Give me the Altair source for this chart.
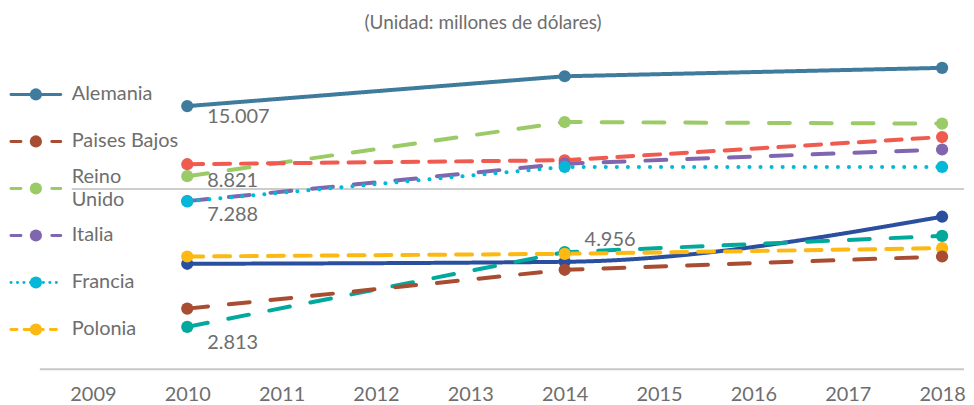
import altair as alt
import pandas as pd

# ---------------- data ----------------
years = [2010, 2014, 2018]
axis_years = [2009, 2010, 2011, 2012, 2013, 2014, 2015, 2016, 2017, 2018]

series_names = ["Alemania", "Reino Unido", "Serie 7", "Italia", "Francia",
                "Serie 8", "Serie 9", "Polonia", "Paises Bajos"]

alemania = [15007, 18820, 20060]
reino_unido = [8821, 13300, 13140]
serie_7 = [9660, 9955, 11870]
italia = [7300, 9700, 10800]
francia = [7288, 9460, 9460]
serie_8 = [4538, 4607, 6486]
serie_9 = [2813, 4956, 5607]
polonia = [4796, 4894, 5109]
paises_bajos = [3230, 4336, 4796]

series_values = [alemania, reino_unido, serie_7, italia, francia,
                 serie_8, serie_9, polonia, paises_bajos]

legend_names = ["Alemania", "Paises Bajos", "Reino Unido", "Italia", "Francia", "Polonia"]
legend_labels = ["Alemania", "Paises Bajos", "Reino\nUnido", "Italia", "Francia", "Polonia"]

labeled_points = [("Alemania", 2010), ("Reino Unido", 2010), ("Francia", 2010),
                  ("Serie 9", 2010), ("Serie 9", 2014)]

title_text = "(Unidad: millones de dólares)"

# ---------------- styles ----------------
colors = ["#3F7B9D", "#9BCB66", "#F05B4F", "#8066AF", "#04B8D6",
          "#2A4F9F", "#00A99B", "#FCB813", "#A84D32"]
dashes = [[1, 0], [21, 21], [16, 11], [21, 21], [0.1, 11],
          [1, 0], [21, 21], [16, 11], [21, 21]]
legend_dashes = [[1, 0], [10, 31], [10, 31], [10, 31], [0.1, 6.4], [6, 7.2]]
label_dy = {("Alemania", 2010): 11, ("Reino Unido", 2010): 5, ("Francia", 2010): 14,
            ("Serie 9", 2010): 16, ("Serie 9", 2014): -12}

FONT = "Lato"
GRAY = "#6E6E6E"
W, H = 962, 322
TOP, BOTTOM = 40, 35
LINE_H = 23

# ---------------- tables ----------------
rows = []
for name, vals in zip(series_names, series_values):
    for yr, v in zip(years, vals):
        lab = f"{v:,}".replace(",", ".") if (name, yr) in labeled_points else ""
        rows.append({"series": name, "year": yr, "value": v, "label": lab})
df = pd.DataFrame(rows)

leg_df = pd.DataFrame({"name": legend_names, "text": legend_labels})
leg_df["lines"] = leg_df["text"].str.count("\n") + 1

# ---------------- scales ----------------
xscale = alt.Scale(domain=[2008.1003, 2018.2533], nice=False, zero=False)
yscale = alt.Scale(type="log", domain=[2038, 23206], nice=False)
xaxis = alt.Axis(values=axis_years, format="d", domain=False, ticks=False, tickSize=0,
                 grid=False, labelFontSize=20, labelFont=FONT, labelColor=GRAY,
                 labelPadding=15, labelFlush=False, labelOverlap=False, title=None)
cscale = alt.Scale(domain=series_names, range=colors)

base = alt.Chart(df)
X = alt.X("year:Q", scale=xscale, axis=xaxis)
Y = alt.Y("value:Q", scale=yscale, axis=None)
C = alt.Color("series:N", scale=cscale, legend=None)
D = alt.StrokeDash("series:N", scale=alt.Scale(domain=series_names, range=dashes), legend=None)

lines = base.mark_line(strokeWidth=4, strokeCap="round", strokeJoin="round").encode(
    x=X, y=Y, color=C, strokeDash=D
).transform_filter(alt.datum.series != "Serie 8")

smooth = base.mark_line(strokeWidth=4, strokeCap="round", interpolate="monotone").encode(
    x=X, y=Y, color=C, strokeDash=D
).transform_filter(alt.datum.series == "Serie 8")

points = base.mark_point(filled=True, size=150, opacity=1).encode(x=X, y=Y, color=C)

label_layers = []
for (name, yr), dy in label_dy.items():
    label_layers.append(
        base.mark_text(align="left", baseline="middle", dx=20, dy=dy, fontSize=20,
                       font=FONT, color=GRAY).encode(x=X, y=Y, text="label:N")
        .transform_filter((alt.datum.series == name) & (alt.datum.year == yr))
    )

main = alt.layer(smooth, lines, points, *label_layers)

# ---------------- legend ----------------
lbase = alt.Chart(leg_df)
LY = alt.Y("name:N", scale=alt.Scale(type="point", domain=legend_names, range=[46, 282], padding=0), axis=None)
LC = alt.Color("name:N", scale=cscale, legend=None)
leg_rule = lbase.mark_rule(strokeWidth=3, strokeCap="round").encode(
    x=alt.value(3), x2=alt.value(53), y=LY, color=LC,
    strokeDash=alt.StrokeDash("name:N", scale=alt.Scale(domain=legend_names, range=legend_dashes), legend=None),
)
leg_pt = lbase.mark_point(filled=True, size=150, opacity=1).encode(x=alt.value(28), y=LY, color=LC)
leg_txt1 = lbase.mark_text(align="left", baseline="middle", fontSize=20, font=FONT, color=GRAY).encode(
    x=alt.value(64), y=LY, text="text:N").transform_filter(alt.datum.lines == 1)
leg_txt2 = lbase.mark_text(align="left", baseline="middle", fontSize=20, font=FONT, color=GRAY,
                           lineBreak="\n", lineHeight=LINE_H, dy=-LINE_H / 2).encode(
    x=alt.value(64), y=LY, text="text:N").transform_filter(alt.datum.lines == 2)
legend = alt.layer(leg_rule, leg_pt, leg_txt1, leg_txt2)

# ---------------- decorations ----------------
deco_df = pd.DataFrame({"t": [title_text]})
dbase = alt.Chart(deco_df)
axis_line = dbase.mark_rule(color="#C8C8C8", strokeWidth=2).encode(
    x=alt.value(32), x2=alt.value(W - 2), y=alt.value(H))
ref_line = dbase.mark_rule(color="#BDBDBD", strokeWidth=1.5).encode(
    x=alt.value(64), x2=alt.value(W - 2), y=alt.value(141))
title = dbase.mark_text(align="center", baseline="middle", fontSize=19, font=FONT, color=GRAY).encode(
    x=alt.value(477), y=alt.value(-26), text="t:N")
deco = alt.layer(ref_line, axis_line, title)

chart = alt.layer(deco, main, legend).resolve_scale(
    y="independent", strokeDash="independent"
).properties(
    width=W, height=H,
    padding={"left": 0, "right": 0, "top": TOP, "bottom": BOTTOM},
    autosize=alt.AutoSizeParams(type="none"),
    background="white",
).configure_view(stroke=None)

chart.save("out.html", embed_options={"renderer": "svg", "actions": False})
